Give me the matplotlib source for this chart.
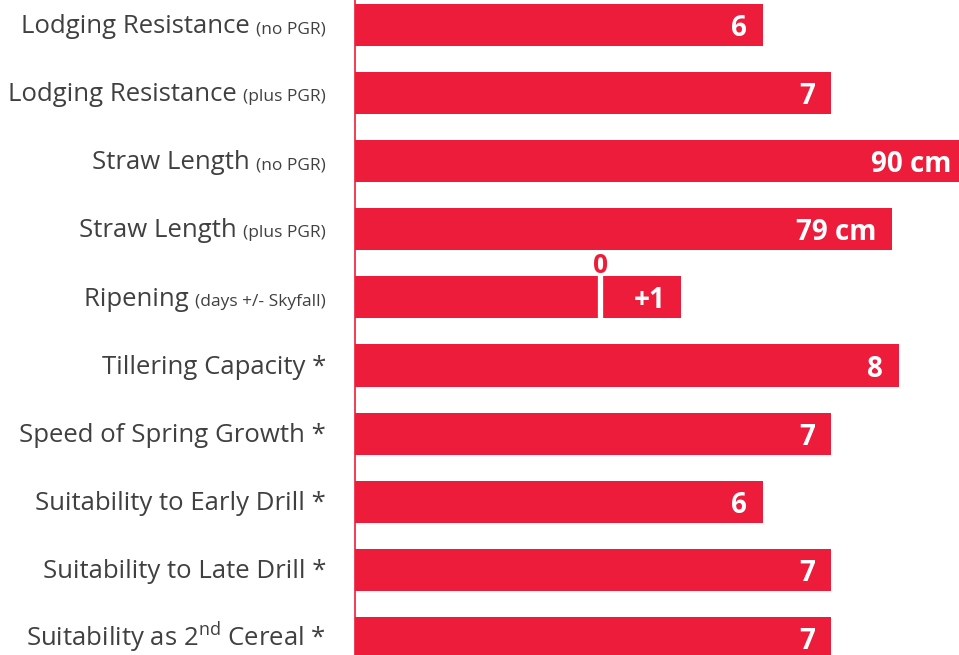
import matplotlib
matplotlib.use("Agg")
import matplotlib.pyplot as plt
from matplotlib.transforms import blended_transform_factory, offset_copy

# ---- data ----
main_labels = ["Lodging Resistance", "Lodging Resistance", "Straw Length", "Straw Length",
               "Ripening", "Tillering Capacity *", "Speed of Spring Growth *",
               "Suitability to Early Drill *", "Suitability to Late Drill *",
               r"Suitability as 2$^{\mathrm{nd}}$ Cereal *"]
sub_labels = ["(no PGR)", "(plus PGR)", "(no PGR)", "(plus PGR)", "(days +/- Skyfall)",
              "", "", "", "", ""]
# bar lengths in chart units (straw length drawn as cm / 10)
bar_values = [6, 7, 9.0, 7.9, 4.8, 8, 7, 6, 7, 7]
value_labels = ["6", "7", "90 cm", "79 cm", "+1", "8", "7", "6", "7", "7"]
ripening_zero = 3.61      # chart position of the "0" (Skyfall) marker
ripening_index = 4

RED = "#ED1C3A"
GREY = "#404040"

plt.rcParams['font.family'] = ['Open Sans', 'DejaVu Sans']
plt.rcParams['mathtext.fontset'] = 'custom'
plt.rcParams['mathtext.rm'] = 'Open Sans'

W, H = 959, 655
fig = plt.figure(figsize=(W / 100, H / 100), dpi=100)
ax = fig.add_axes([355 / W, 0, 1 - 355 / W, 1])

n = len(bar_values)
ys = list(range(n))
ax.barh(ys, bar_values, height=0.617, color=RED, left=0)
ax.set_xlim(0, (W - 355) / 68.0)
ax.set_ylim((H - 25) / 68.1, -25 / 68.1)

for s in ["top", "right", "bottom"]:
    ax.spines[s].set_visible(False)
ax.spines["left"].set_color(RED)
ax.spines["left"].set_linewidth(1.2)
ax.set_xticks([])
ax.set_yticks([])

# ripening zero marker
zr = ripening_index
ax.plot([ripening_zero, ripening_zero], [zr - 0.33, zr + 0.33], color="white",
        lw=3.8, solid_capstyle="butt")
ax.text(ripening_zero, zr - 0.36, "0", color=RED, fontsize=19, fontweight="bold",
        ha="center", va="baseline")

# value labels
for y, v, lab in zip(ys, bar_values, value_labels):
    t = offset_copy(ax.transData, fig=fig, x=-16, y=0, units="dots")
    ax.text(v, y, lab, transform=t, color="white", fontsize=20, fontweight="bold",
            ha="right", va="center_baseline")

# category labels (main text + smaller parenthetical)
trans = blended_transform_factory(fig.transFigure, ax.transData)
lx = 326 / W
for y, m, s in zip(ys, main_labels, sub_labels):
    yb = y + 0.12
    if s:
        st = ax.text(lx, yb, s, transform=trans, fontsize=12.5, color=GREY,
                     ha="right", va="baseline", clip_on=False)
        ax.annotate(m + " ", xy=(0, yb), xycoords=(st, "data"), fontsize=18.5,
                    color=GREY, ha="right", va="baseline", annotation_clip=False)
    else:
        ax.text(lx, yb, m, transform=trans, fontsize=18.5, color=GREY,
                ha="right", va="baseline", clip_on=False)

fig.savefig("out.png", dpi=100)
